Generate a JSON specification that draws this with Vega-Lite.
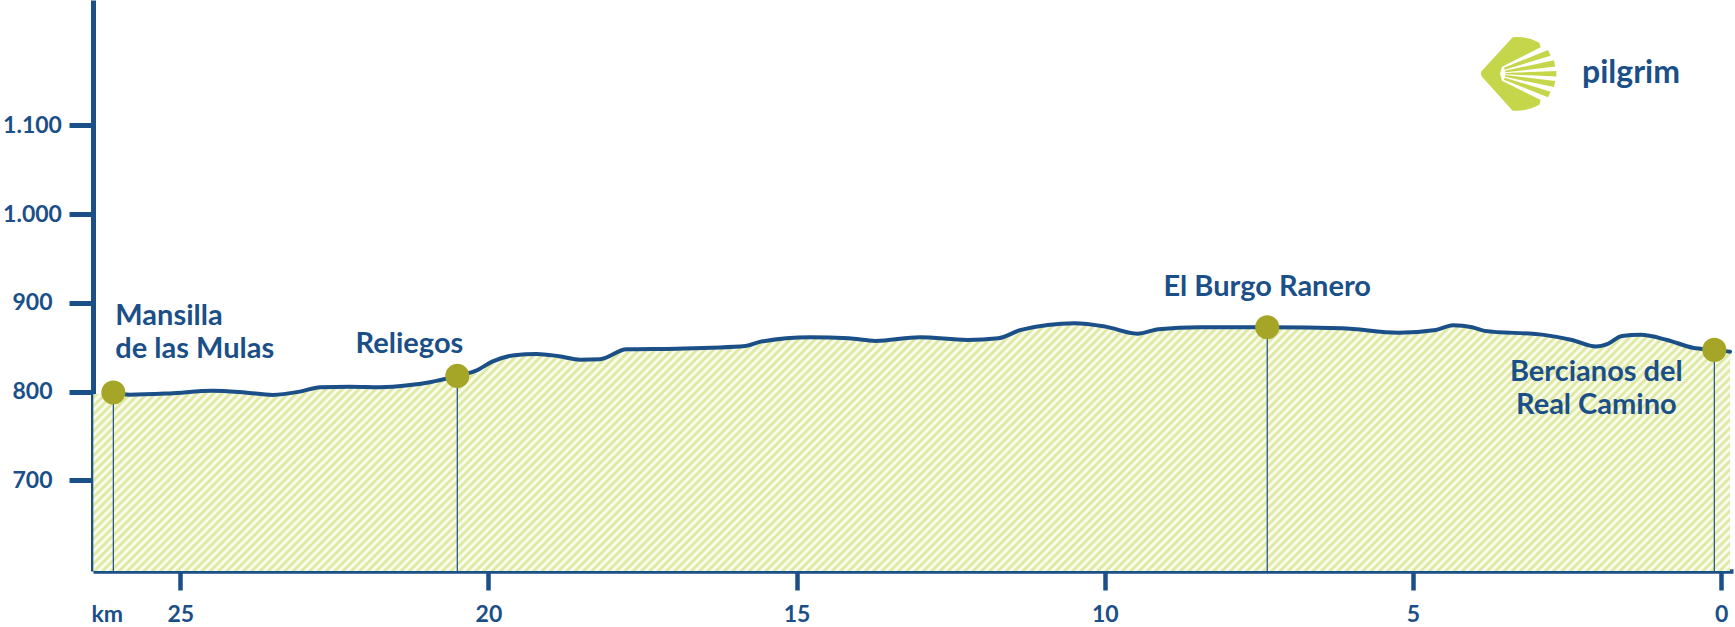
{
  "$schema": "https://vega.github.io/schema/vega-lite/v6.json",
  "width": 1640,
  "height": 571,
  "autosize": {"type": "none"},
  "padding": {"left": 93, "top": 0, "right": 2, "bottom": 56},
  "background": "white",
  "config": {"view": {"stroke": null}, "font": "Lato"},
  "datasets": {
    "profile": [
      {"km": 26.41, "elev": 797, "edge": true},
      {"km": 26.085, "elev": 799},
      {"km": 25.815, "elev": 796.5},
      {"km": 25.17, "elev": 798},
      {"km": 24.47, "elev": 801},
      {"km": 23.95, "elev": 799},
      {"km": 23.5, "elev": 796.3},
      {"km": 23.06, "elev": 800},
      {"km": 22.73, "elev": 805},
      {"km": 22.25, "elev": 805.5},
      {"km": 21.76, "elev": 805},
      {"km": 21.27, "elev": 807.5},
      {"km": 20.95, "elev": 810.6},
      {"km": 20.505, "elev": 817.7},
      {"km": 20.2, "elev": 823.6},
      {"km": 19.94, "elev": 833.7},
      {"km": 19.58, "elev": 841},
      {"km": 19.22, "elev": 842.4},
      {"km": 18.86, "elev": 839.9},
      {"km": 18.51, "elev": 836},
      {"km": 18.19, "elev": 836.5},
      {"km": 17.76, "elev": 847.7},
      {"km": 16.95, "elev": 848.4},
      {"km": 15.83, "elev": 851.5},
      {"km": 15.58, "elev": 856.3},
      {"km": 14.78, "elev": 861.3},
      {"km": 14.15, "elev": 860.1},
      {"km": 13.72, "elev": 857.1},
      {"km": 13.0, "elev": 861.3},
      {"km": 12.23, "elev": 858.2},
      {"km": 11.73, "elev": 860.1},
      {"km": 11.36, "elev": 869.5},
      {"km": 10.49, "elev": 877},
      {"km": 9.99, "elev": 873.2},
      {"km": 9.47, "elev": 865.3},
      {"km": 9.13, "elev": 870.3},
      {"km": 8.46, "elev": 872.5},
      {"km": 7.365, "elev": 872.5},
      {"km": 6.15, "elev": 871.4},
      {"km": 5.24, "elev": 866.4},
      {"km": 4.63, "elev": 869.5},
      {"km": 4.35, "elev": 874.8},
      {"km": 4.04, "elev": 872.5},
      {"km": 3.84, "elev": 868.4},
      {"km": 2.88, "elev": 863.9},
      {"km": 2.42, "elev": 858.2},
      {"km": 2.03, "elev": 850.7},
      {"km": 1.84, "elev": 853.7},
      {"km": 1.61, "elev": 862.7},
      {"km": 1.31, "elev": 863.9},
      {"km": 0.88, "elev": 858.2},
      {"km": 0.46, "elev": 849.5},
      {"km": 0.112, "elev": 847},
      {"km": -0.143, "elev": 845}
    ],
    "towns": [
      {"town": "Mansilla\nde las Mulas", "km": 26.085, "elev": 799},
      {"town": "Reliegos", "km": 20.505, "elev": 817.7},
      {"town": "El Burgo Ranero", "km": 7.365, "elev": 872.5},
      {"town": "Bercianos del\nReal Camino", "km": 0.112, "elev": 847}
    ],
    "brand": [{"name": "pilgrim"}]
  },
  "layer": [
    {
      "encoding": {
        "x": {
          "field": "km",
          "type": "quantitative",
          "scale": {"domain": [-0.191, 26.415], "reverse": true, "nice": false, "zero": false},
          "axis": {
            "values": [0, 5, 10, 15, 20, 25],
            "format": "d",
            "title": "km",
            "titleX": 13.7,
            "titleY": 50.7,
            "titleAlign": "center",
            "titleBaseline": "alphabetic",
            "titleFont": "Lato",
            "titleFontSize": 23,
            "titleFontWeight": "bold",
            "titleColor": "#1b4f87",
            "labelFont": "Lato",
            "labelFontSize": 23,
            "labelFontWeight": "bold",
            "labelColor": "#1b4f87",
            "labelBaseline": "alphabetic",
            "labelPadding": 31.7,
            "labelFlush": false,
            "labelOverlap": false,
            "labelBound": false,
            "tickSize": 19,
            "tickWidth": 4.5,
            "tickColor": "#1b4f87",
            "domainColor": "#1b4f87",
            "domainWidth": 4.5,
            "grid": false
          }
        },
        "y": {
          "field": "elev",
          "type": "quantitative",
          "scale": {"domain": [598, 1241], "nice": false, "zero": false},
          "axis": {
            "values": [700, 800, 900, 1000, 1100],
            "title": null,
            "labelExpr": "replace(format(datum.value, ','), ',', '.')",
            "labelFont": "Lato",
            "labelFontSize": 23,
            "labelFontWeight": "bold",
            "labelColor": "#1b4f87",
            "labelAlign": "center",
            "labelBaseline": "middle",
            "labelPadding": 37,
            "labelOverlap": false,
            "labelFlush": false,
            "labelBound": false,
            "tickSize": 24,
            "tickWidth": 5,
            "tickColor": "#1b4f87",
            "domainColor": "#1b4f87",
            "domainWidth": 5,
            "grid": false
          }
        }
      },
      "layer": [
        {
          "data": {"name": "profile"},
          "mark": {
            "type": "area",
            "interpolate": "monotone",
            "fill": {
              "gradient": "linear",
              "x1": 0, "y1": 0, "x2": 1.1256, "y2": 0.1704,
              "stops": [
{"offset":0,"color":"#d9e592"},{"offset":0.0022,"color":"#fff"},{"offset":0.0044,"color":"#d9e592"},{"offset":0.0066,"color":"#fff"},{"offset":0.0088,"color":"#d9e592"},{"offset":0.011,"color":"#fff"},{"offset":0.0132,"color":"#d9e592"},{"offset":0.0154,"color":"#fff"},{"offset":0.0176,"color":"#d9e592"},{"offset":0.0198,"color":"#fff"},
{"offset":0.022,"color":"#d9e592"},{"offset":0.0242,"color":"#fff"},{"offset":0.0264,"color":"#d9e592"},{"offset":0.0286,"color":"#fff"},{"offset":0.0308,"color":"#d9e592"},{"offset":0.033,"color":"#fff"},{"offset":0.0352,"color":"#d9e592"},{"offset":0.0374,"color":"#fff"},{"offset":0.0396,"color":"#d9e592"},{"offset":0.0418,"color":"#fff"},
{"offset":0.044,"color":"#d9e592"},{"offset":0.0462,"color":"#fff"},{"offset":0.0484,"color":"#d9e592"},{"offset":0.0506,"color":"#fff"},{"offset":0.0528,"color":"#d9e592"},{"offset":0.055,"color":"#fff"},{"offset":0.0572,"color":"#d9e592"},{"offset":0.0594,"color":"#fff"},{"offset":0.0616,"color":"#d9e592"},{"offset":0.0638,"color":"#fff"},
{"offset":0.066,"color":"#d9e592"},{"offset":0.0682,"color":"#fff"},{"offset":0.0704,"color":"#d9e592"},{"offset":0.0726,"color":"#fff"},{"offset":0.0748,"color":"#d9e592"},{"offset":0.077,"color":"#fff"},{"offset":0.0792,"color":"#d9e592"},{"offset":0.0814,"color":"#fff"},{"offset":0.0836,"color":"#d9e592"},{"offset":0.0858,"color":"#fff"},
{"offset":0.088,"color":"#d9e592"},{"offset":0.0902,"color":"#fff"},{"offset":0.0924,"color":"#d9e592"},{"offset":0.0946,"color":"#fff"},{"offset":0.0968,"color":"#d9e592"},{"offset":0.099,"color":"#fff"},{"offset":0.1012,"color":"#d9e592"},{"offset":0.1034,"color":"#fff"},{"offset":0.1056,"color":"#d9e592"},{"offset":0.1078,"color":"#fff"},
{"offset":0.11,"color":"#d9e592"},{"offset":0.1122,"color":"#fff"},{"offset":0.1144,"color":"#d9e592"},{"offset":0.1166,"color":"#fff"},{"offset":0.1188,"color":"#d9e592"},{"offset":0.121,"color":"#fff"},{"offset":0.1232,"color":"#d9e592"},{"offset":0.1254,"color":"#fff"},{"offset":0.1276,"color":"#d9e592"},{"offset":0.1298,"color":"#fff"},
{"offset":0.132,"color":"#d9e592"},{"offset":0.1342,"color":"#fff"},{"offset":0.1364,"color":"#d9e592"},{"offset":0.1386,"color":"#fff"},{"offset":0.1408,"color":"#d9e592"},{"offset":0.143,"color":"#fff"},{"offset":0.1452,"color":"#d9e592"},{"offset":0.1474,"color":"#fff"},{"offset":0.1496,"color":"#d9e592"},{"offset":0.1518,"color":"#fff"},
{"offset":0.154,"color":"#d9e592"},{"offset":0.1562,"color":"#fff"},{"offset":0.1584,"color":"#d9e592"},{"offset":0.1606,"color":"#fff"},{"offset":0.1628,"color":"#d9e592"},{"offset":0.165,"color":"#fff"},{"offset":0.1672,"color":"#d9e592"},{"offset":0.1694,"color":"#fff"},{"offset":0.1716,"color":"#d9e592"},{"offset":0.1738,"color":"#fff"},
{"offset":0.176,"color":"#d9e592"},{"offset":0.1782,"color":"#fff"},{"offset":0.1804,"color":"#d9e592"},{"offset":0.1826,"color":"#fff"},{"offset":0.1848,"color":"#d9e592"},{"offset":0.187,"color":"#fff"},{"offset":0.1892,"color":"#d9e592"},{"offset":0.1914,"color":"#fff"},{"offset":0.1936,"color":"#d9e592"},{"offset":0.1958,"color":"#fff"},
{"offset":0.198,"color":"#d9e592"},{"offset":0.2002,"color":"#fff"},{"offset":0.2024,"color":"#d9e592"},{"offset":0.2046,"color":"#fff"},{"offset":0.2068,"color":"#d9e592"},{"offset":0.209,"color":"#fff"},{"offset":0.2112,"color":"#d9e592"},{"offset":0.2134,"color":"#fff"},{"offset":0.2156,"color":"#d9e592"},{"offset":0.2178,"color":"#fff"},
{"offset":0.22,"color":"#d9e592"},{"offset":0.2222,"color":"#fff"},{"offset":0.2244,"color":"#d9e592"},{"offset":0.2266,"color":"#fff"},{"offset":0.2288,"color":"#d9e592"},{"offset":0.231,"color":"#fff"},{"offset":0.2332,"color":"#d9e592"},{"offset":0.2354,"color":"#fff"},{"offset":0.2376,"color":"#d9e592"},{"offset":0.2398,"color":"#fff"},
{"offset":0.242,"color":"#d9e592"},{"offset":0.2442,"color":"#fff"},{"offset":0.2464,"color":"#d9e592"},{"offset":0.2486,"color":"#fff"},{"offset":0.2508,"color":"#d9e592"},{"offset":0.253,"color":"#fff"},{"offset":0.2552,"color":"#d9e592"},{"offset":0.2574,"color":"#fff"},{"offset":0.2596,"color":"#d9e592"},{"offset":0.2618,"color":"#fff"},
{"offset":0.264,"color":"#d9e592"},{"offset":0.2662,"color":"#fff"},{"offset":0.2684,"color":"#d9e592"},{"offset":0.2706,"color":"#fff"},{"offset":0.2728,"color":"#d9e592"},{"offset":0.275,"color":"#fff"},{"offset":0.2772,"color":"#d9e592"},{"offset":0.2794,"color":"#fff"},{"offset":0.2816,"color":"#d9e592"},{"offset":0.2838,"color":"#fff"},
{"offset":0.286,"color":"#d9e592"},{"offset":0.2882,"color":"#fff"},{"offset":0.2904,"color":"#d9e592"},{"offset":0.2926,"color":"#fff"},{"offset":0.2948,"color":"#d9e592"},{"offset":0.297,"color":"#fff"},{"offset":0.2992,"color":"#d9e592"},{"offset":0.3014,"color":"#fff"},{"offset":0.3036,"color":"#d9e592"},{"offset":0.3058,"color":"#fff"},
{"offset":0.308,"color":"#d9e592"},{"offset":0.3102,"color":"#fff"},{"offset":0.3124,"color":"#d9e592"},{"offset":0.3146,"color":"#fff"},{"offset":0.3168,"color":"#d9e592"},{"offset":0.319,"color":"#fff"},{"offset":0.3212,"color":"#d9e592"},{"offset":0.3234,"color":"#fff"},{"offset":0.3256,"color":"#d9e592"},{"offset":0.3278,"color":"#fff"},
{"offset":0.33,"color":"#d9e592"},{"offset":0.3322,"color":"#fff"},{"offset":0.3344,"color":"#d9e592"},{"offset":0.3366,"color":"#fff"},{"offset":0.3388,"color":"#d9e592"},{"offset":0.341,"color":"#fff"},{"offset":0.3432,"color":"#d9e592"},{"offset":0.3454,"color":"#fff"},{"offset":0.3476,"color":"#d9e592"},{"offset":0.3498,"color":"#fff"},
{"offset":0.352,"color":"#d9e592"},{"offset":0.3542,"color":"#fff"},{"offset":0.3564,"color":"#d9e592"},{"offset":0.3586,"color":"#fff"},{"offset":0.3608,"color":"#d9e592"},{"offset":0.363,"color":"#fff"},{"offset":0.3652,"color":"#d9e592"},{"offset":0.3674,"color":"#fff"},{"offset":0.3696,"color":"#d9e592"},{"offset":0.3718,"color":"#fff"},
{"offset":0.374,"color":"#d9e592"},{"offset":0.3762,"color":"#fff"},{"offset":0.3784,"color":"#d9e592"},{"offset":0.3806,"color":"#fff"},{"offset":0.3828,"color":"#d9e592"},{"offset":0.385,"color":"#fff"},{"offset":0.3872,"color":"#d9e592"},{"offset":0.3894,"color":"#fff"},{"offset":0.3916,"color":"#d9e592"},{"offset":0.3938,"color":"#fff"},
{"offset":0.396,"color":"#d9e592"},{"offset":0.3982,"color":"#fff"},{"offset":0.4004,"color":"#d9e592"},{"offset":0.4026,"color":"#fff"},{"offset":0.4048,"color":"#d9e592"},{"offset":0.407,"color":"#fff"},{"offset":0.4092,"color":"#d9e592"},{"offset":0.4114,"color":"#fff"},{"offset":0.4136,"color":"#d9e592"},{"offset":0.4158,"color":"#fff"},
{"offset":0.418,"color":"#d9e592"},{"offset":0.4202,"color":"#fff"},{"offset":0.4224,"color":"#d9e592"},{"offset":0.4246,"color":"#fff"},{"offset":0.4268,"color":"#d9e592"},{"offset":0.429,"color":"#fff"},{"offset":0.4312,"color":"#d9e592"},{"offset":0.4334,"color":"#fff"},{"offset":0.4356,"color":"#d9e592"},{"offset":0.4378,"color":"#fff"},
{"offset":0.44,"color":"#d9e592"},{"offset":0.4422,"color":"#fff"},{"offset":0.4444,"color":"#d9e592"},{"offset":0.4466,"color":"#fff"},{"offset":0.4488,"color":"#d9e592"},{"offset":0.451,"color":"#fff"},{"offset":0.4532,"color":"#d9e592"},{"offset":0.4554,"color":"#fff"},{"offset":0.4576,"color":"#d9e592"},{"offset":0.4598,"color":"#fff"},
{"offset":0.462,"color":"#d9e592"},{"offset":0.4642,"color":"#fff"},{"offset":0.4664,"color":"#d9e592"},{"offset":0.4686,"color":"#fff"},{"offset":0.4708,"color":"#d9e592"},{"offset":0.473,"color":"#fff"},{"offset":0.4752,"color":"#d9e592"},{"offset":0.4774,"color":"#fff"},{"offset":0.4796,"color":"#d9e592"},{"offset":0.4818,"color":"#fff"},
{"offset":0.484,"color":"#d9e592"},{"offset":0.4862,"color":"#fff"},{"offset":0.4884,"color":"#d9e592"},{"offset":0.4906,"color":"#fff"},{"offset":0.4928,"color":"#d9e592"},{"offset":0.495,"color":"#fff"},{"offset":0.4972,"color":"#d9e592"},{"offset":0.4994,"color":"#fff"},{"offset":0.5016,"color":"#d9e592"},{"offset":0.5038,"color":"#fff"},
{"offset":0.506,"color":"#d9e592"},{"offset":0.5082,"color":"#fff"},{"offset":0.5104,"color":"#d9e592"},{"offset":0.5126,"color":"#fff"},{"offset":0.5148,"color":"#d9e592"},{"offset":0.517,"color":"#fff"},{"offset":0.5192,"color":"#d9e592"},{"offset":0.5214,"color":"#fff"},{"offset":0.5236,"color":"#d9e592"},{"offset":0.5258,"color":"#fff"},
{"offset":0.528,"color":"#d9e592"},{"offset":0.5302,"color":"#fff"},{"offset":0.5324,"color":"#d9e592"},{"offset":0.5346,"color":"#fff"},{"offset":0.5368,"color":"#d9e592"},{"offset":0.539,"color":"#fff"},{"offset":0.5412,"color":"#d9e592"},{"offset":0.5434,"color":"#fff"},{"offset":0.5456,"color":"#d9e592"},{"offset":0.5478,"color":"#fff"},
{"offset":0.55,"color":"#d9e592"},{"offset":0.5522,"color":"#fff"},{"offset":0.5544,"color":"#d9e592"},{"offset":0.5566,"color":"#fff"},{"offset":0.5588,"color":"#d9e592"},{"offset":0.561,"color":"#fff"},{"offset":0.5632,"color":"#d9e592"},{"offset":0.5654,"color":"#fff"},{"offset":0.5676,"color":"#d9e592"},{"offset":0.5698,"color":"#fff"},
{"offset":0.572,"color":"#d9e592"},{"offset":0.5742,"color":"#fff"},{"offset":0.5764,"color":"#d9e592"},{"offset":0.5786,"color":"#fff"},{"offset":0.5808,"color":"#d9e592"},{"offset":0.583,"color":"#fff"},{"offset":0.5852,"color":"#d9e592"},{"offset":0.5874,"color":"#fff"},{"offset":0.5896,"color":"#d9e592"},{"offset":0.5918,"color":"#fff"},
{"offset":0.594,"color":"#d9e592"},{"offset":0.5962,"color":"#fff"},{"offset":0.5984,"color":"#d9e592"},{"offset":0.6006,"color":"#fff"},{"offset":0.6028,"color":"#d9e592"},{"offset":0.605,"color":"#fff"},{"offset":0.6072,"color":"#d9e592"},{"offset":0.6094,"color":"#fff"},{"offset":0.6116,"color":"#d9e592"},{"offset":0.6138,"color":"#fff"},
{"offset":0.616,"color":"#d9e592"},{"offset":0.6182,"color":"#fff"},{"offset":0.6204,"color":"#d9e592"},{"offset":0.6226,"color":"#fff"},{"offset":0.6248,"color":"#d9e592"},{"offset":0.627,"color":"#fff"},{"offset":0.6292,"color":"#d9e592"},{"offset":0.6314,"color":"#fff"},{"offset":0.6336,"color":"#d9e592"},{"offset":0.6358,"color":"#fff"},
{"offset":0.638,"color":"#d9e592"},{"offset":0.6402,"color":"#fff"},{"offset":0.6424,"color":"#d9e592"},{"offset":0.6446,"color":"#fff"},{"offset":0.6468,"color":"#d9e592"},{"offset":0.649,"color":"#fff"},{"offset":0.6512,"color":"#d9e592"},{"offset":0.6534,"color":"#fff"},{"offset":0.6556,"color":"#d9e592"},{"offset":0.6578,"color":"#fff"},
{"offset":0.66,"color":"#d9e592"},{"offset":0.6622,"color":"#fff"},{"offset":0.6644,"color":"#d9e592"},{"offset":0.6666,"color":"#fff"},{"offset":0.6688,"color":"#d9e592"},{"offset":0.671,"color":"#fff"},{"offset":0.6732,"color":"#d9e592"},{"offset":0.6754,"color":"#fff"},{"offset":0.6776,"color":"#d9e592"},{"offset":0.6798,"color":"#fff"},
{"offset":0.682,"color":"#d9e592"},{"offset":0.6842,"color":"#fff"},{"offset":0.6864,"color":"#d9e592"},{"offset":0.6886,"color":"#fff"},{"offset":0.6908,"color":"#d9e592"},{"offset":0.693,"color":"#fff"},{"offset":0.6952,"color":"#d9e592"},{"offset":0.6974,"color":"#fff"},{"offset":0.6996,"color":"#d9e592"},{"offset":0.7018,"color":"#fff"},
{"offset":0.704,"color":"#d9e592"},{"offset":0.7062,"color":"#fff"},{"offset":0.7084,"color":"#d9e592"},{"offset":0.7106,"color":"#fff"},{"offset":0.7128,"color":"#d9e592"},{"offset":0.715,"color":"#fff"},{"offset":0.7172,"color":"#d9e592"},{"offset":0.7194,"color":"#fff"},{"offset":0.7216,"color":"#d9e592"},{"offset":0.7238,"color":"#fff"},
{"offset":0.726,"color":"#d9e592"},{"offset":0.7282,"color":"#fff"},{"offset":0.7304,"color":"#d9e592"},{"offset":0.7326,"color":"#fff"},{"offset":0.7348,"color":"#d9e592"},{"offset":0.737,"color":"#fff"},{"offset":0.7392,"color":"#d9e592"},{"offset":0.7414,"color":"#fff"},{"offset":0.7436,"color":"#d9e592"},{"offset":0.7458,"color":"#fff"},
{"offset":0.748,"color":"#d9e592"},{"offset":0.7502,"color":"#fff"},{"offset":0.7524,"color":"#d9e592"},{"offset":0.7546,"color":"#fff"},{"offset":0.7568,"color":"#d9e592"},{"offset":0.759,"color":"#fff"},{"offset":0.7612,"color":"#d9e592"},{"offset":0.7634,"color":"#fff"},{"offset":0.7656,"color":"#d9e592"},{"offset":0.7678,"color":"#fff"},
{"offset":0.77,"color":"#d9e592"},{"offset":0.7722,"color":"#fff"},{"offset":0.7744,"color":"#d9e592"},{"offset":0.7766,"color":"#fff"},{"offset":0.7788,"color":"#d9e592"},{"offset":0.781,"color":"#fff"},{"offset":0.7832,"color":"#d9e592"},{"offset":0.7854,"color":"#fff"},{"offset":0.7876,"color":"#d9e592"},{"offset":0.7898,"color":"#fff"},
{"offset":0.792,"color":"#d9e592"},{"offset":0.7942,"color":"#fff"},{"offset":0.7964,"color":"#d9e592"},{"offset":0.7986,"color":"#fff"},{"offset":0.8008,"color":"#d9e592"},{"offset":0.803,"color":"#fff"},{"offset":0.8052,"color":"#d9e592"},{"offset":0.8074,"color":"#fff"},{"offset":0.8096,"color":"#d9e592"},{"offset":0.8118,"color":"#fff"},
{"offset":0.814,"color":"#d9e592"},{"offset":0.8162,"color":"#fff"},{"offset":0.8184,"color":"#d9e592"},{"offset":0.8206,"color":"#fff"},{"offset":0.8228,"color":"#d9e592"},{"offset":0.825,"color":"#fff"},{"offset":0.8272,"color":"#d9e592"},{"offset":0.8294,"color":"#fff"},{"offset":0.8316,"color":"#d9e592"},{"offset":0.8338,"color":"#fff"},
{"offset":0.836,"color":"#d9e592"},{"offset":0.8382,"color":"#fff"},{"offset":0.8404,"color":"#d9e592"},{"offset":0.8426,"color":"#fff"},{"offset":0.8448,"color":"#d9e592"},{"offset":0.847,"color":"#fff"},{"offset":0.8492,"color":"#d9e592"},{"offset":0.8514,"color":"#fff"},{"offset":0.8536,"color":"#d9e592"},{"offset":0.8558,"color":"#fff"},
{"offset":0.858,"color":"#d9e592"},{"offset":0.8602,"color":"#fff"},{"offset":0.8624,"color":"#d9e592"},{"offset":0.8646,"color":"#fff"},{"offset":0.8668,"color":"#d9e592"},{"offset":0.869,"color":"#fff"},{"offset":0.8712,"color":"#d9e592"},{"offset":0.8734,"color":"#fff"},{"offset":0.8756,"color":"#d9e592"},{"offset":0.8778,"color":"#fff"},
{"offset":0.88,"color":"#d9e592"},{"offset":0.8822,"color":"#fff"},{"offset":0.8844,"color":"#d9e592"},{"offset":0.8866,"color":"#fff"},{"offset":0.8888,"color":"#d9e592"},{"offset":0.891,"color":"#fff"},{"offset":0.8932,"color":"#d9e592"},{"offset":0.8954,"color":"#fff"},{"offset":0.8976,"color":"#d9e592"},{"offset":0.8998,"color":"#fff"},
{"offset":0.902,"color":"#d9e592"},{"offset":0.9042,"color":"#fff"},{"offset":0.9064,"color":"#d9e592"},{"offset":0.9086,"color":"#fff"},{"offset":0.9108,"color":"#d9e592"},{"offset":0.913,"color":"#fff"},{"offset":0.9152,"color":"#d9e592"},{"offset":0.9174,"color":"#fff"},{"offset":0.9196,"color":"#d9e592"},{"offset":0.9218,"color":"#fff"},
{"offset":0.924,"color":"#d9e592"},{"offset":0.9262,"color":"#fff"},{"offset":0.9284,"color":"#d9e592"},{"offset":0.9306,"color":"#fff"},{"offset":0.9328,"color":"#d9e592"},{"offset":0.935,"color":"#fff"},{"offset":0.9372,"color":"#d9e592"},{"offset":0.9394,"color":"#fff"},{"offset":0.9416,"color":"#d9e592"},{"offset":0.9438,"color":"#fff"},
{"offset":0.946,"color":"#d9e592"},{"offset":0.9482,"color":"#fff"},{"offset":0.9504,"color":"#d9e592"},{"offset":0.9526,"color":"#fff"},{"offset":0.9548,"color":"#d9e592"},{"offset":0.957,"color":"#fff"},{"offset":0.9592,"color":"#d9e592"},{"offset":0.9614,"color":"#fff"},{"offset":0.9636,"color":"#d9e592"},{"offset":0.9658,"color":"#fff"},
{"offset":0.968,"color":"#d9e592"},{"offset":0.9702,"color":"#fff"},{"offset":0.9724,"color":"#d9e592"},{"offset":0.9746,"color":"#fff"},{"offset":0.9768,"color":"#d9e592"},{"offset":0.979,"color":"#fff"},{"offset":0.9812,"color":"#d9e592"},{"offset":0.9834,"color":"#fff"},{"offset":0.9856,"color":"#d9e592"},{"offset":0.9878,"color":"#fff"},
{"offset":0.99,"color":"#d9e592"},{"offset":0.9922,"color":"#fff"},{"offset":0.9944,"color":"#d9e592"},{"offset":0.9966,"color":"#fff"},{"offset":0.9988,"color":"#d9e592"},{"offset":1,"color":"#ecf2c8"}
              ]
            }
          },
          "encoding": {"y2": {"datum": 598}}
        },
        {
          "data": {"name": "towns"},
          "mark": {"type": "rule", "color": "#1b4f87", "strokeWidth": 1.2},
          "encoding": {"y2": {"datum": 598}}
        },
        {
          "data": {"name": "profile"},
          "transform": [{"filter": "!datum.edge"}],
          "mark": {"type": "line", "interpolate": "monotone", "color": "#1b4f87", "strokeWidth": 4, "strokeCap": "round"},
          "encoding": {}
        },
        {
          "data": {"name": "towns"},
          "mark": {"type": "point", "filled": true, "color": "#a5a628", "size": 580, "opacity": 1, "strokeWidth": 0},
          "encoding": {}
        },
        {
          "data": {"name": "towns"},
          "transform": [{"filter": "indexof(datum.town, 'Mansilla') === 0"}],
          "mark": {"type": "text", "font": "Lato", "fontWeight": "bold", "fontSize": 29, "color": "#1b4f87", "lineBreak": "\n", "lineHeight": 33, "align": "left", "baseline": "alphabetic", "dx": 2, "dy": -67.5},
          "encoding": {"text": {"field": "town"}}
        },
        {
          "data": {"name": "towns"},
          "transform": [{"filter": "datum.town === 'Reliegos'"}],
          "mark": {"type": "text", "font": "Lato", "fontWeight": "bold", "fontSize": 29, "color": "#1b4f87", "align": "right", "baseline": "alphabetic", "dx": 6, "dy": -22.6},
          "encoding": {"text": {"field": "town"}}
        },
        {
          "data": {"name": "towns"},
          "transform": [{"filter": "datum.town === 'El Burgo Ranero'"}],
          "mark": {"type": "text", "font": "Lato", "fontWeight": "bold", "fontSize": 29, "color": "#1b4f87", "align": "center", "baseline": "alphabetic", "dx": 0, "dy": -31},
          "encoding": {"text": {"field": "town"}}
        },
        {
          "data": {"name": "towns"},
          "transform": [{"filter": "indexof(datum.town, 'Bercianos') === 0"}],
          "mark": {"type": "text", "font": "Lato", "fontWeight": "bold", "fontSize": 29, "color": "#1b4f87", "lineBreak": "\n", "lineHeight": 33, "align": "center", "baseline": "alphabetic", "dx": -118, "dy": 30.8},
          "encoding": {"text": {"field": "town"}}
        }
      ]
    },
    {
      "data": {"name": "brand"},
      "mark": {"type": "text", "font": "Lato", "fontWeight": "bold", "fontSize": 32, "color": "#1b4f87", "align": "right", "baseline": "alphabetic"},
      "encoding": {
        "x": {"datum": 0.668, "type": "quantitative"},
        "y": {"datum": 1147.2, "type": "quantitative"},
        "text": {"field": "name"}
      }
    },
    {
      "data": {"name": "brand"},
      "mark": {
        "type": "point",
        "filled": true,
        "color": "#c5d64b",
        "opacity": 1,
        "strokeWidth": 0,
        "size": 5878,
        "shape": "M-0.122,-0.948Q0.25,-0.99,0.574,-0.809L0.609,-0.687L-0.4,-0.183L-0.452,0L-0.4,0.183L0.609,0.687L0.574,0.809Q0.25,0.99,-0.122,0.965L-0.904,0.096Q-1,0,-0.904,-0.096Z M-0.348,-0.157L0.8,-0.617L0.87,-0.47L-0.33,-0.104Z M-0.322,-0.078L0.957,-0.348L0.991,-0.191L-0.313,-0.035Z M-0.304,-0.017L1.017,-0.07L1.017,0.07L-0.304,0.017Z M-0.313,0.035L0.991,0.191L0.957,0.348L-0.322,0.078Z M-0.33,0.104L0.87,0.47L0.8,0.617L-0.348,0.157Z"
      },
      "encoding": {
        "x": {"datum": 3.308, "type": "quantitative"},
        "y": {"datum": 1158, "type": "quantitative"}
      }
    }
  ]
}
